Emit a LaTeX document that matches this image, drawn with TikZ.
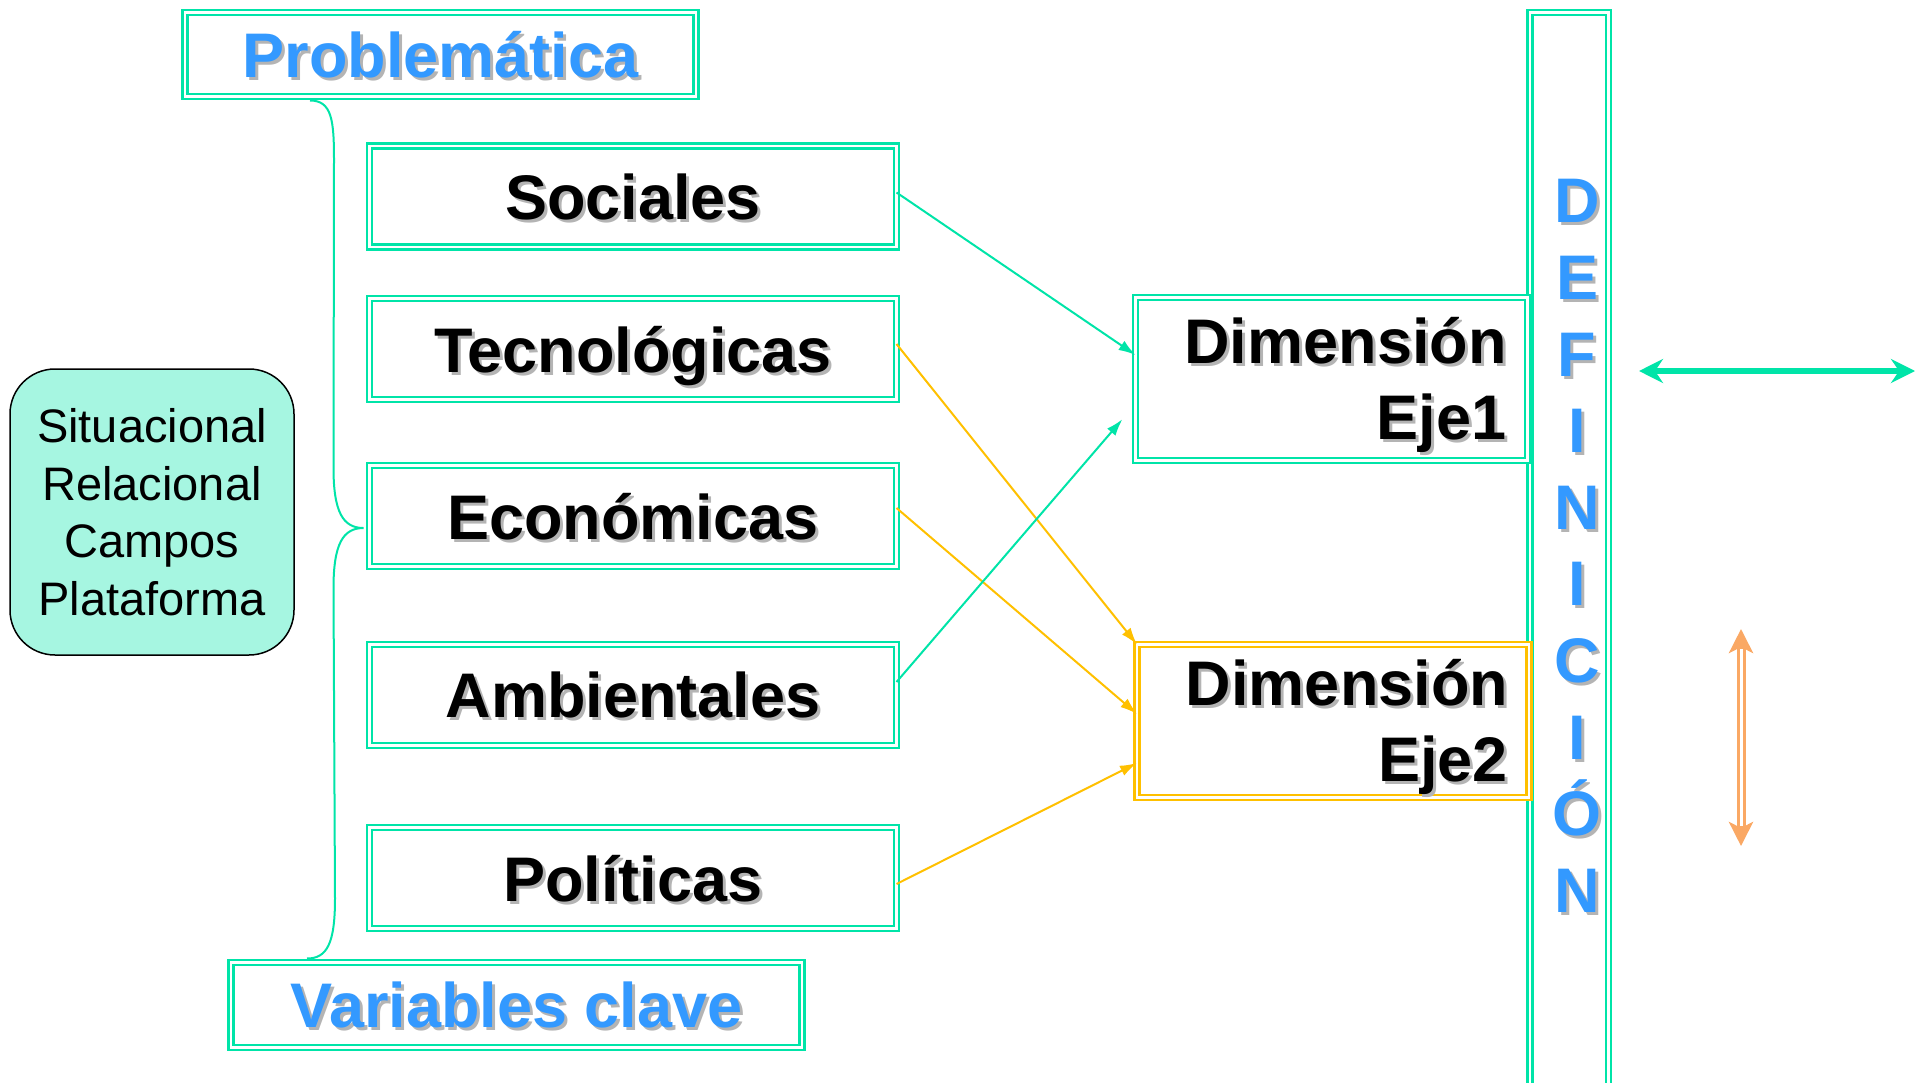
\documentclass[tikz,border=0pt]{standalone}
\usepackage{fontspec}
\setmainfont{Liberation Sans}
\usetikzlibrary{arrows.meta, calc, positioning}

\definecolor{mint}{RGB}{0,228,168}
\definecolor{amber}{RGB}{255,192,0}
\definecolor{skyblue}{RGB}{51,153,255}
\definecolor{peach}{RGB}{250,168,100}
\definecolor{shadowgray}{RGB}{180,180,180}

\newcommand{\bigfont}{\fontsize{63pt}{76pt}\selectfont\bfseries}
\newcommand{\listfont}{\fontsize{47pt}{57.6pt}\selectfont}
\newcommand{\shad}[1]{\makebox[0pt][l]{\hspace{3pt}\raisebox{-3pt}{\color{shadowgray}#1}}#1}

\begin{document}
\begin{tikzpicture}[x=1pt, y=-1pt,% styles used in image code
           > = {Latex[length=17pt, width=11pt]},
 dblbox/.style = {draw=mint, double=white, line width=2.5pt,
                  double distance=2.5pt, inner sep=0pt, outer sep=0pt},
 varbox/.style = {dblbox, minimum width=527pt, minimum height=101pt,
                  text depth=0pt, font=\bigfont},
headbox/.style = {dblbox, text=skyblue, text depth=0pt, font=\bigfont},
 dimbox/.style = {dblbox, text width=350pt, inner xsep=21pt, align=right,
                  font=\bigfont},
   link/.style = {->, line width=2pt},
  brace/.style = {mint, line width=2pt}
                    ]
	\useasboundingbox (0,0) rectangle (1921,1083);

	% titles
	\node[headbox, minimum width=511pt, minimum height=84pt]
	     (prob) at (440.5,54.5) {\shad{Problemática}};
	\node[headbox, minimum width=571pt, minimum height=85pt]
	     (vars) at (516.5,1005) {\shad{Variables clave}};

	% key variables
	\node[varbox] (soc) at (633,196.5) {\shad{Sociales}};
	\node[varbox] (tec) at (633,349)   {\shad{Tecnológicas}};
	\node[varbox] (eco) at (633,516)   {\shad{Económicas}};
	\node[varbox] (amb) at (633,695)   {\shad{Ambientales}};
	\node[varbox] (pol) at (633,878)   {\shad{Políticas}};

	% side box
	\node[draw, line width=1.5pt, fill=mint!35, rounded corners=45pt,
	      minimum width=284pt, minimum height=286pt, align=center,
	      font=\listfont] (sit) at (152,512)
	     {Situacional\\Relacional\\Campos\\Plataforma};

	% definition bar
	\node[dblbox, minimum width=78.5pt, minimum height=1074pt]
	     (def) at (1569,549.5) {};
	\node[text=skyblue, align=center, font=\fontsize{63pt}{76.6pt}\selectfont\bfseries]
	     (deftext) at ($(def.center)+(8,-2)$)
	     {\shad{D}\\\shad{E}\\\shad{F}\\\shad{I}\\\shad{N}\\\shad{I}\\\shad{C}\\\shad{I}\\\shad{Ó}\\\shad{N}};

	% dimensions
	\node[dimbox, minimum height=163pt] (eje1) at (1331.5,379)
	     {\rule{0pt}{61pt}\shad{Dimensión}\\\shad{Eje1}};
	\node[dimbox, draw=amber, minimum height=149pt] (eje2) at (1333,721)
	     {\rule{0pt}{61pt}\shad{Dimensión}\\\shad{Eje2}};

	% brace
	\coordinate (btop) at ($(prob.south west)+(125,4)$);
	\coordinate (btip) at ($(eco.west)+(-6,12)$);
	\coordinate (bbot) at ($(vars.north west)+(76,-4)$);
	\draw[brace] (btop) .. controls ($(btop)+(22,0)$) and ($(btop)+(24,20)$) .. ($(btop)+(24,60)$)
	  -- ($(btip)+(-30,-60)$) .. controls ($(btip)+(-30,-15)$) and ($(btip)+(-20,0)$) .. (btip)
	  .. controls ($(btip)+(-20,0)$) and ($(btip)+(-30,15)$) .. ($(btip)+(-30,60)$)
	  -- ($(bbot)+(28,-60)$) .. controls ($(bbot)+(28,-15)$) and ($(bbot)+(20,0)$) .. (bbot);

	% links
	\draw[link, mint]  ($(soc.east)+(0,-4)$) -- ($(eje1.west)+(0,-24)$);
	\draw[link, amber] ($(tec.east)+(0,-5)$) -- (eje2.north west);
	\draw[link, amber] ($(eco.east)+(0,-8)$) -- ($(eje2.west)+(0,-7)$);
	\draw[link, mint, shorten >=20pt] ($(amb.east)+(0,-13)$) -- ($(eje1.west)+(0,25)$);
	\draw[link, amber] ($(pol.east)+(0,6)$) -- ($(eje2.west)+(0,42)$);

	% free arrows
	\coordinate (ga) at (1639,371);
	\coordinate (gb) at (1915,371);
	\draw[mint, line width=6pt, {Stealth[length=24pt, width=24pt, inset=8pt]}-{Stealth[length=24pt, width=24pt, inset=8pt]}]
	     (ga) -- (gb);

	\coordinate (oa) at (1741,629);
	\coordinate (ob) at (1741,846);
	\draw[peach, line width=9pt, {Stealth[length=24pt, width=24pt, inset=6pt]}-{Stealth[length=24pt, width=24pt, inset=6pt]}]
	     (oa) -- (ob);
	\draw[white, line width=3pt, shorten <=20pt, shorten >=20pt] (oa) -- (ob);
\end{tikzpicture}
\end{document}
